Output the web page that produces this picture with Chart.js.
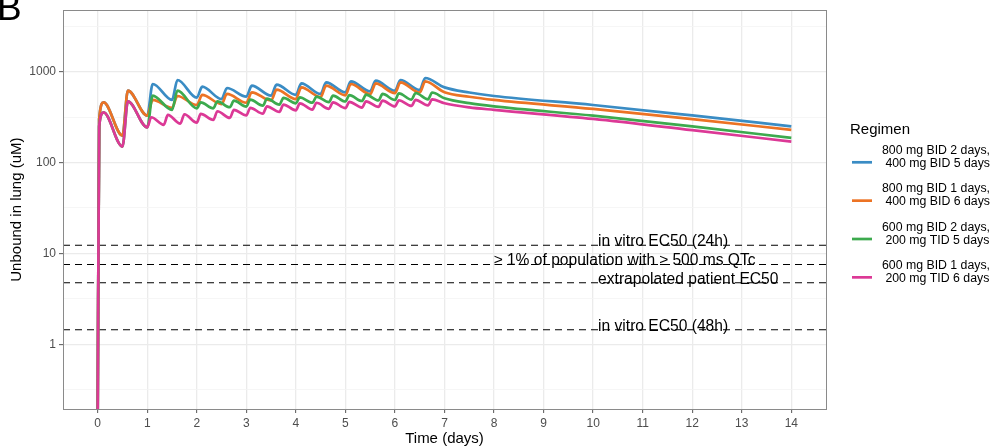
<!DOCTYPE html>
<html lang="en">
  <head>
    <meta charset="UTF-8" />
    <title>Unbound in lung</title>
    <script src="https://cdn.jsdelivr.net/npm/chart.js@4.4.1/dist/chart.umd.min.js"></script>
    <style>
      html, body { margin: 0; padding: 0; background: #fff; }
      #chart { display: block; }
    </style>
  </head>
  <body>
    <canvas id="chart" width="994" height="448"></canvas>
    <script>
      // tick positions
      const xTicks = [0, 1, 2, 3, 4, 5, 6, 7, 8, 9, 10, 11, 12, 13, 14];
      const yTicks = [0.3162, 1, 3.162, 10, 31.62, 100, 316.2, 1000, 3162];
      const yTickLabels = ['', '1', '', '10', '', '100', '', '1000', ''];

      // regimens
      const regimens = [
        ['800 mg BID 2 days,', ' 400 mg BID 5 days'],
        ['800 mg BID 1 days,', ' 400 mg BID 6 days'],
        ['600 mg BID 2 days,', ' 200 mg TID 5 days'],
        ['600 mg BID 1 days,', ' 200 mg TID 6 days']
      ];
      const colors = ['#3a8cc4', '#ec7324', '#3caa4e', '#dc3996'];

      // time points (days)
      const bidTimes = [0, 0.03, 0.12, 0.5, 0.61, 1.0, 1.11, 1.5, 1.61, 2.0, 2.11, 2.5, 2.61, 3.0, 3.11,
        3.5, 3.61, 4.0, 4.11, 4.5, 4.61, 5.0, 5.11, 5.5, 5.61, 6.0, 6.11, 6.5, 6.61, 7.0, 7.5, 8, 10, 12, 14];
      const tid2Times = [0, 0.03, 0.12, 0.5, 0.61, 1.0, 1.11, 1.5, 1.61, 2.0, 2.08, 2.333, 2.417, 2.667, 2.75,
        3.0, 3.08, 3.333, 3.417, 3.667, 3.75, 4.0, 4.08, 4.333, 4.417, 4.667, 4.75, 5.0, 5.08, 5.333, 5.417,
        5.667, 5.75, 6.0, 6.08, 6.333, 6.417, 6.667, 6.75, 7.0, 7.5, 8, 10, 12, 14];
      const tid1Times = [0, 0.03, 0.12, 0.5, 0.61, 1.0, 1.08, 1.333, 1.417, 1.667, 1.75, 2.0, 2.08, 2.333, 2.417,
        2.667, 2.75, 3.0, 3.08, 3.333, 3.417, 3.667, 3.75, 4.0, 4.08, 4.333, 4.417, 4.667, 4.75, 5.0, 5.08,
        5.333, 5.417, 5.667, 5.75, 6.0, 6.08, 6.333, 6.417, 6.667, 6.75, 7.0, 7.5, 8, 10, 12, 14];

      // unbound concentration in lung (uM)
      const blueVals = [0.15, 300, 460, 198, 618, 328, 732, 489, 810, 518, 684, 500, 662, 531, 702,
        545, 720, 555, 743, 569, 763, 593, 782, 608, 796, 618, 810, 630, 852, 672, 590, 540, 430, 330, 250];
      const orangeVals = [0.15, 300, 460, 198, 618, 328, 489, 400, 540, 430, 555, 440, 569, 455, 593,
        480, 634, 500, 672, 525, 702, 550, 732, 565, 743, 580, 763, 590, 782, 593, 530, 489, 389, 300, 229];
      const greenVals = [0.15, 250, 357, 150, 472, 244, 545, 380, 618, 395, 460, 395, 472, 406, 480,
        413, 493, 423, 505, 433, 514, 449, 522, 455, 531, 462, 545, 470, 552, 476, 558,
        482, 569, 488, 578, 493, 583, 497, 590, 510, 450, 415, 328, 250, 187];
      const pinkVals = [0.15, 250, 357, 150, 472, 244, 315, 260, 334, 268, 340, 275, 343, 295, 367,
        310, 380, 330, 400, 345, 415, 360, 435, 375, 449, 383, 455, 390, 460, 397, 466,
        403, 472, 410, 480, 415, 485, 420, 490, 425, 495, 450, 405, 380, 302, 227, 170];

      // reference thresholds
      const hlineVals = [12.3, 7.55, 4.74, 1.44];
      const hlineLabels = ['in vitro EC50 (24h)', '\u2265 1% of population with \u2265 500 ms QTc',
        'extrapolated patient EC50', 'in vitro EC50 (48h)'];
      const hlineLabelX = [10.1, 8.0, 10.1, 10.1];

      const xMin = -0.7, xMax = 14.7;
      const yMin = 0.1934, yMax = 4755;

      Chart.defaults.font.family = '"Liberation Sans", Arial, Helvetica, sans-serif';

      let toPoints = (times, vals) => times.map((t, i) => ({ x: t, y: vals[i] }));

      let seriesData = [
        toPoints(bidTimes, blueVals),
        toPoints(bidTimes, orangeVals),
        toPoints(tid2Times, greenVals),
        toPoints(tid1Times, pinkVals)
      ];

      let datasets = seriesData.map((d, i) => ({
        label: regimens[i].join(' '),
        data: d,
        borderColor: colors[i],
        borderWidth: 2.7,
        pointRadius: 0,
        cubicInterpolationMode: 'monotone',
        borderJoinStyle: 'round',
        clip: 0,
        order: 4 - i
      }));

      hlineVals.forEach((v, i) => {
        datasets.push({
          label: hlineLabels[i],
          data: [{ x: xMin, y: v }, { x: xMax, y: v }],
          borderColor: '#000',
          borderWidth: 1.1,
          borderDash: [7, 5],
          pointRadius: 0,
          clip: 0,
          order: 10
        });
      });

      let isMajorY = i => yTickLabels[i] !== '';

      const extras = {
        id: 'extras',
        afterDatasetsDraw(chart) {
          let c = chart.ctx;
          let a = chart.chartArea;
          let xs = chart.scales.x, ys = chart.scales.y;

          // threshold labels
          c.save();
          c.fillStyle = '#000';
          c.font = '15.6px "Liberation Sans", Arial, sans-serif';
          c.textAlign = 'left';
          c.textBaseline = 'alphabetic';
          hlineLabels.forEach((txt, i) => {
            c.fillText(txt, xs.getPixelForValue(hlineLabelX[i]), ys.getPixelForValue(hlineVals[i]) + 1);
          });
          c.restore();

          // panel border
          c.save();
          c.strokeStyle = '#8a8a8a';
          c.lineWidth = 1;
          c.strokeRect(Math.round(a.left) + 0.5, Math.round(a.top) + 0.5,
            Math.round(a.right - a.left), Math.round(a.bottom - a.top));
          c.restore();
        },
        afterDraw(chart) {
          let c = chart.ctx;
          c.save();
          // panel tag
          c.fillStyle = '#000';
          c.font = '37px "Liberation Sans", Arial, sans-serif';
          c.textBaseline = 'alphabetic';
          c.fillText('B', -3, 20);

          // legend
          c.font = '15px "Liberation Sans", Arial, sans-serif';
          c.textBaseline = 'middle';
          c.fillText('Regimen', 850, 130);
          c.font = '12.3px "Liberation Sans", Arial, sans-serif';
          regimens.forEach((lines, i) => {
            let ky = 162.3 + i * 38.35;
            c.strokeStyle = colors[i];
            c.lineWidth = 2.7;
            c.beginPath();
            c.moveTo(852, ky);
            c.lineTo(872, ky);
            c.stroke();
            c.fillStyle = '#000';
            c.fillText(lines[0], 882, ky - 11.6);
            c.fillText(lines[1], 882, ky + 1.3);
          });
          c.restore();
        }
      };

      new Chart(document.getElementById('chart'), {
        type: 'line',
        data: { datasets: datasets },
        options: {
          responsive: false,
          animation: false,
          devicePixelRatio: 1,
          layout: { padding: { left: 0, right: 168, top: 9, bottom: 0 } },
          scales: {
            x: {
              type: 'linear',
              min: xMin,
              max: xMax,
              afterBuildTicks: s => { s.ticks = xTicks.map(v => ({ value: v })); },
              afterFit: s => { s.height = 39; },
              border: { display: false },
              grid: { color: '#ebebeb', lineWidth: 1.3, tickColor: '#555', tickWidth: 1, tickLength: 4 },
              ticks: { color: '#4d4d4d', font: { size: 12 }, padding: 3, maxRotation: 0, autoSkip: false },
              title: { display: true, text: 'Time (days)', color: '#000', font: { size: 15 }, padding: { top: 0, bottom: 0 } }
            },
            y: {
              type: 'logarithmic',
              min: yMin,
              max: yMax,
              afterBuildTicks: s => { s.ticks = yTicks.map(v => ({ value: v })); },
              afterFit: s => { s.width = 63; },
              border: { display: false },
              grid: {
                color: ctx => isMajorY(ctx.index) ? '#ebebeb' : '#f4f4f4',
                lineWidth: ctx => isMajorY(ctx.index) ? 1.3 : 0.8,
                tickColor: ctx => isMajorY(ctx.index) ? '#555' : 'rgba(0,0,0,0)',
                tickWidth: 1,
                tickLength: 4
              },
              ticks: {
                color: '#4d4d4d',
                font: { size: 12 },
                padding: 3,
                autoSkip: false,
                callback: (v, i) => yTickLabels[i]
              },
              title: { display: true, text: 'Unbound in lung (uM)', color: '#000', font: { size: 15 }, padding: { top: 8, bottom: 0 } }
            }
          },
          plugins: {
            legend: { display: false },
            tooltip: { enabled: false }
          }
        },
        plugins: [extras]
      });
    </script>
  </body>
</html>
